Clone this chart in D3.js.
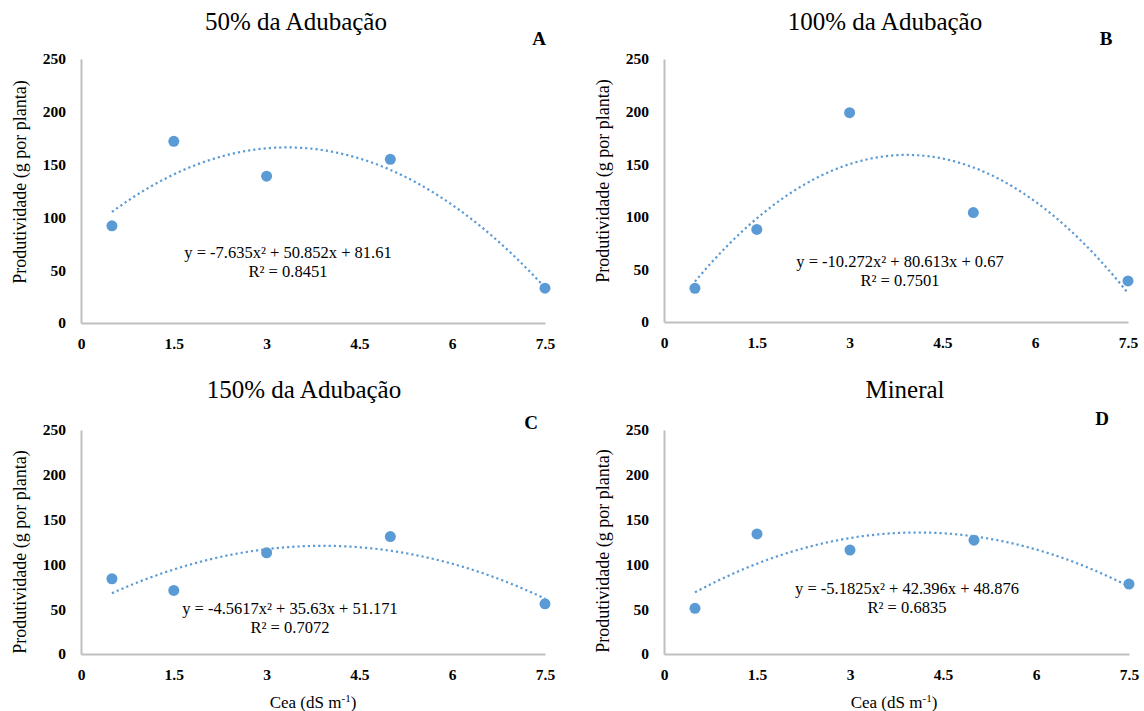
<!DOCTYPE html>
<html>
<head>
<meta charset="utf-8">
<script src="https://cdn.jsdelivr.net/npm/d3@7/dist/d3.min.js"></script>
<style>
  body { margin: 0; background: #fff; }
  text { font-family: "Liberation Serif", "Times New Roman", Times, "DejaVu Serif", serif; fill: #000; }
</style>
</head>
<body>
<svg id="chart"></svg>
<script>
// data
let xValues = [0.5, 1.5, 3, 5, 7.5]
let valuesA = [92, 172, 139, 155, 33]
let valuesB = [32, 88, 199, 104, 39]
let valuesC = [84, 71, 113, 131, 56]
let valuesD = [51, 134, 116, 127, 78]

// trendline coefficients [a, b, c] for y = a x^2 + b x + c
let coefA = [-7.635, 50.852, 81.61]
let coefB = [-10.272, 80.613, 0.67]
let coefC = [-4.5617, 35.63, 51.171]
let coefD = [-5.1825, 42.396, 48.876]

let eqA = ['y = -7.635x² + 50.852x + 81.61', 'R² = 0.8451']
let eqB = ['y = -10.272x² + 80.613x + 0.67', 'R² = 0.7501']
let eqC = ['y = -4.5617x² + 35.63x + 51.171', 'R² = 0.7072']
let eqD = ['y = -5.1825x² + 42.396x + 48.876', 'R² = 0.6835']

let titles = ['50% da Adubação', '100% da Adubação', '150% da Adubação', 'Mineral']
let letters = ['A', 'B', 'C', 'D']
let xTicks = [0, 1.5, 3, 4.5, 6, 7.5]
let yTicks = [0, 50, 100, 150, 200, 250]
let yLabel = 'Produtividade (g por planta)'

let width = 1144
let height = 711
let blue = '#5b9bd5'
let axisGray = '#bfbfbf'
let serif = '"Liberation Serif", "Times New Roman", Times, "DejaVu Serif", serif'

let svg = d3.select('#chart').attr('width', width).attr('height', height)

// layout of each panel
let panels = [
    {values: valuesA, coef: coefA, eq: eqA, left: 81, right: 545, top: 59, bottom: 323,
     titleX: 296, titleY: 30, letterX: 539, letterY: 45, eqX: 288, eqY: 258, yLabX: 26, yLabY: 182, xTitle: false},
    {values: valuesB, coef: coefB, eq: eqB, left: 664, right: 1128, top: 59, bottom: 322,
     titleX: 885, titleY: 30, letterX: 1106, letterY: 45, eqX: 900, eqY: 267, yLabX: 609, yLabY: 181, xTitle: false},
    {values: valuesC, coef: coefC, eq: eqC, left: 81, right: 545, top: 430, bottom: 654,
     titleX: 304, titleY: 398, letterX: 531, letterY: 429, eqX: 290, eqY: 614, yLabX: 26, yLabY: 552, xTitle: true, xTitleX: 313},
    {values: valuesD, coef: coefD, eq: eqD, left: 664, right: 1129, top: 430, bottom: 654,
     titleX: 905, titleY: 398, letterX: 1102, letterY: 425, eqX: 907, eqY: 594, yLabX: 609, yLabY: 551, xTitle: true, xTitleX: 894}
]

let drawPanel = (p, i) => {
    let g = svg.append('g')

    let xScale = d3.scaleLinear().domain([0, 7.5]).range([p.left, p.right])
    let yScale = d3.scaleLinear().domain([0, 250]).range([p.bottom, p.top])

    let xAxis = d3.axisBottom(xScale)
        .tickValues(xTicks)
        .tickFormat(d3.format('~g'))
        .tickSize(0)
        .tickPadding(15)

    let yAxis = d3.axisLeft(yScale)
        .tickValues(yTicks)
        .tickSize(0)
        .tickPadding(15)

    let gx = g.append('g')
        .attr('transform', 'translate(0,' + p.bottom + ')')
        .call(xAxis)
    let gy = g.append('g')
        .attr('transform', 'translate(' + p.left + ',0)')
        .call(yAxis)

    ;[gx, gy].forEach(ax => {
        ax.attr('font-family', serif)
        ax.select('.domain').attr('stroke', axisGray).attr('stroke-width', 2)
        ax.selectAll('text')
            .style('font-family', serif)
            .style('font-size', '15.5px')
            .style('font-weight', 'bold')
            .attr('fill', '#000')
    })

    // trendline from the fitted equation
    let c = p.coef
    let trend = d3.range(0, 141).map(k => {
        let x = xValues[0] + (xValues[xValues.length - 1] - xValues[0]) * k / 140
        return [x, c[0] * x * x + c[1] * x + c[2]]
    })
    let line = d3.line()
        .x(d => xScale(d[0]))
        .y(d => yScale(d[1]))

    g.append('path')
        .datum(trend)
        .attr('d', line)
        .attr('fill', 'none')
        .attr('stroke', blue)
        .attr('stroke-width', 2.2)
        .attr('stroke-dasharray', '2.2,3')

    g.selectAll('circle')
        .data(p.values)
        .enter()
        .append('circle')
        .attr('cx', (d, k) => xScale(xValues[k]))
        .attr('cy', d => yScale(d))
        .attr('r', 5.5)
        .attr('fill', blue)

    // equation text
    g.append('text')
        .attr('x', p.eqX)
        .attr('y', p.eqY)
        .attr('text-anchor', 'middle')
        .style('font-size', '16.5px')
        .selectAll('tspan')
        .data(p.eq)
        .enter()
        .append('tspan')
        .attr('x', p.eqX)
        .attr('dy', (d, k) => k === 0 ? 0 : 19)
        .text(d => d)

    // title
    g.append('text')
        .attr('x', p.titleX)
        .attr('y', p.titleY)
        .attr('text-anchor', 'middle')
        .style('font-size', '25px')
        .text(titles[i])

    // panel letter
    g.append('text')
        .attr('x', p.letterX)
        .attr('y', p.letterY)
        .attr('text-anchor', 'middle')
        .style('font-size', '19px')
        .style('font-weight', 'bold')
        .text(letters[i])

    // y label
    g.append('text')
        .attr('transform', 'translate(' + p.yLabX + ',' + p.yLabY + ') rotate(-90)')
        .attr('text-anchor', 'middle')
        .style('font-size', '18px')
        .text(yLabel)

    // x label
    if (p.xTitle) {
        let t = g.append('text')
            .attr('x', p.xTitleX)
            .attr('y', 708)
            .attr('text-anchor', 'middle')
            .style('font-size', '17px')
        t.append('tspan').text('Cea (dS m')
        t.append('tspan').attr('dy', -6).style('font-size', '11px').text('-1')
        t.append('tspan').attr('dy', 6).text(')')
    }
}

panels.forEach(drawPanel)
</script>
</body>
</html>
